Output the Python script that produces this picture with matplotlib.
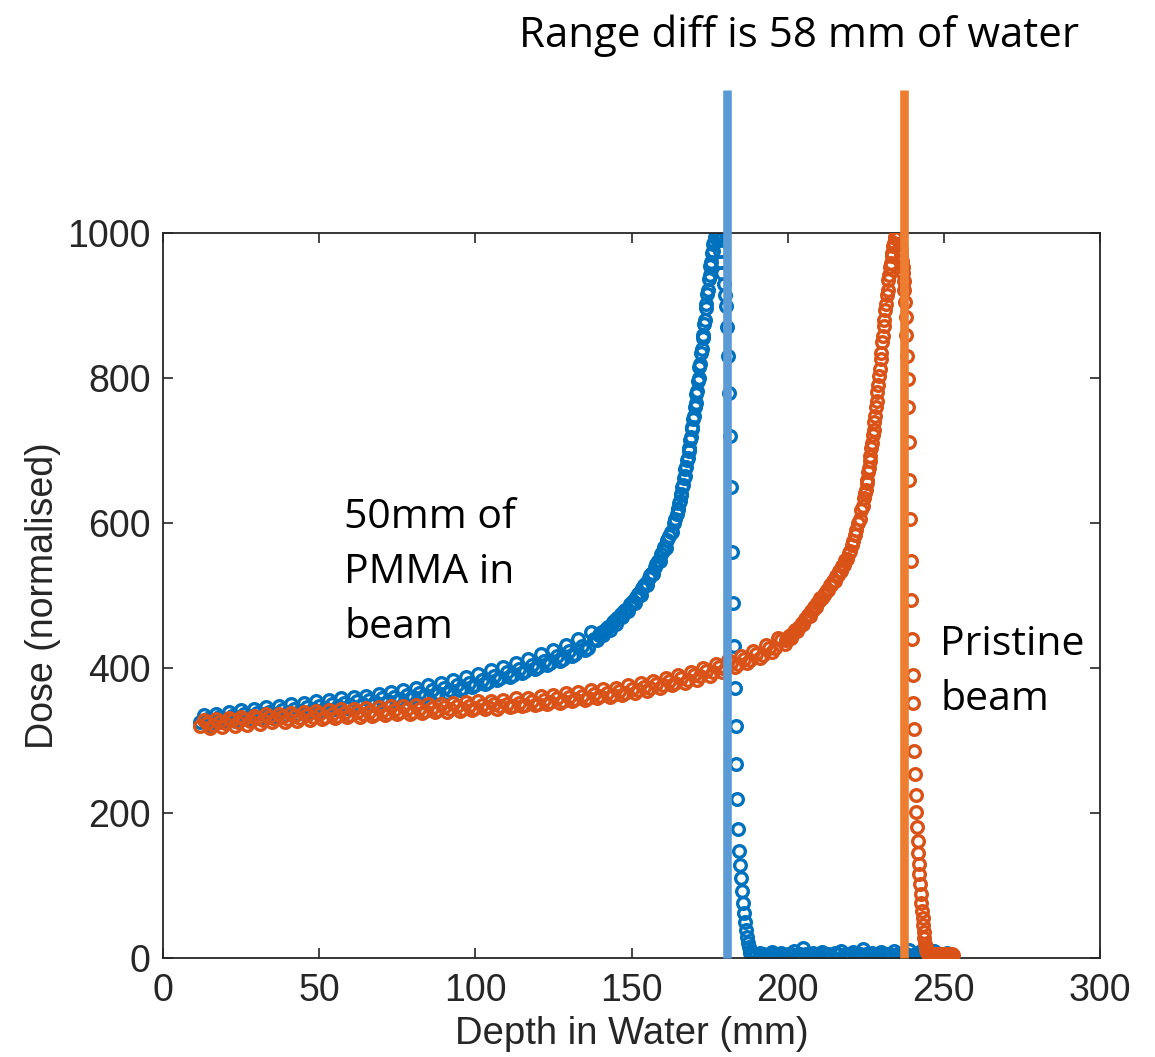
import matplotlib
matplotlib.use("Agg")
import matplotlib.pyplot as plt

# ---------------- data ----------------
blue_depth = [12, 14, 16, 18, 20, 22, 24, 26, 28, 30, 32, 34, 36, 38, 40, 42, 44, 46, 48, 50,
              52, 54, 56, 58, 60, 62, 64, 66, 68, 70, 72, 74, 76, 78, 80, 82, 84, 86, 88, 90,
              92, 94, 96, 98, 100, 102, 104, 106, 108, 110, 112, 114, 116, 118, 120, 122, 124,
              126, 128, 130, 132, 134, 136, 138,
              139, 140, 141, 142, 143, 144, 145, 146, 147, 148, 149, 150, 151, 152, 153, 154,
              155, 156, 157, 158, 159, 160, 161, 162, 163, 164,
              164.5, 165, 165.5, 166, 166.5, 167, 167.5, 168, 168.5, 169, 169.5, 170, 170.5,
              171, 171.5, 172, 172.5, 173, 173.5, 174, 174.5, 175, 175.5, 176, 176.5, 177,
              177.3, 177.6,
              177.9, 178.3, 178.7, 179.1, 179.5, 179.9, 180.3, 180.6, 180.9, 181.2, 181.5,
              181.8, 182.1, 182.4, 182.7, 183.0, 183.3, 183.6, 183.9, 184.2, 184.5, 184.8,
              185.1, 185.4, 185.7, 186.0, 186.3, 186.6, 186.9, 187.2, 187.5, 187.8, 188.1,
              189, 190, 191, 192, 193, 194, 195, 196, 197, 198, 199, 200, 201, 202, 203, 204,
              205, 206, 207, 208, 209, 210, 211, 212, 213, 214, 215, 216, 217, 218, 219, 220,
              221, 222, 223, 224, 225, 226, 227, 228, 229, 230, 231, 232, 233, 234, 235, 236,
              237, 238, 239, 240, 241, 242, 243, 244, 245, 246, 247, 248, 249, 250, 251]
blue_dose = [325, 329, 327, 332, 330, 334, 332, 336, 334, 338, 336, 340, 337, 342, 339, 344, 341,
             346, 343, 348, 345, 350, 347, 352, 349, 354, 351, 356, 353, 358, 355, 360, 357, 363,
             360, 366, 363, 369, 366, 372, 369, 376, 373, 380, 377, 384, 381, 389, 386, 394, 391,
             399, 396, 404, 401, 410, 407, 416, 413, 423, 420, 431, 428, 440,
             438, 448, 446, 455, 453, 463, 461, 471, 470, 480, 479, 490, 490, 502, 501, 514,
             515, 528, 530, 544, 547, 562, 566, 582, 588, 605,
             612, 620, 630, 640, 652, 665, 677, 690, 703, 718, 732, 748, 765, 782, 800, 820,
             840, 860, 880, 902, 922, 942, 960, 975, 988, 996,
             1000, 994,
             990, 975, 960, 945, 930, 915, 900, 870, 830, 780, 720, 650, 560, 490, 430, 372,
             320, 268, 220, 178, 148, 128, 110, 92, 76, 62, 50, 39, 29, 21, 15, 10, 7,
             6, 4, 7, 5, 3, 6, 8, 4, 5, 7, 3, 6, 5, 9, 4, 6, 14, 5, 3, 7, 6, 4, 8, 5, 6, 3, 7,
             5, 10, 4, 6, 5, 8, 3, 6, 12, 5, 4, 7, 6, 3, 8, 5, 6, 4, 9, 5, 3, 7, 6, 11, 4, 5,
             8, 6, 3, 7, 5, 9, 4, 6, 5, 7]

# second (interleaved) scan of the PMMA curve
blue2_depth = [13, 15, 17, 19, 21, 23, 25, 27, 29, 31, 33, 35, 37, 39, 41, 43, 45, 47, 49, 51,
               53, 55, 57, 59, 61, 63, 65, 67, 69, 71, 73, 75, 77, 79, 81, 83, 85, 87, 89, 91,
               93, 95, 97, 99, 101, 103, 105, 107, 109, 111, 113, 115, 117, 119, 121, 123, 125,
               127, 129, 131, 133, 135, 137,
               139.5, 140.5, 141.5, 142.5, 143.5, 144.5, 145.5, 146.5, 147.5, 148.5, 149.5,
               150.5, 151.5, 152.5, 153.5, 154.5, 155.5, 156.5, 157.5, 158.5, 159.5, 160.5,
               161.5, 162.5, 163.5,
               164.75, 165.25, 165.75, 166.25, 166.75, 167.25, 167.75, 168.25, 168.75, 169.25,
               169.75, 170.25, 170.75, 171.25, 171.75, 172.25, 172.75, 173.25, 173.75, 174.25,
               174.75, 175.25, 175.75, 176.25, 176.75]
blue2_dose = [335, 322, 337, 325, 340, 327, 342, 329, 344, 331,
              346, 333, 348, 335, 350, 337, 352, 339, 354, 341,
              356, 343, 358, 345, 360, 347, 362, 349, 364, 352,
              367, 354, 370, 357, 373, 360, 376, 363, 380, 366,
              384, 370, 388, 374, 392, 378, 397, 383, 402, 388,
              407, 393, 413, 398, 419, 404, 425, 410, 432, 417,
              440, 425, 449,
              446, 450, 453, 457, 460, 465, 469, 474, 478, 482, 488, 493, 498, 504, 510, 517,
              524, 531, 540, 548, 557, 567, 577, 588, 600,
              620, 628, 639, 650, 662, 674, 687, 700, 714, 729, 744, 760, 778, 796, 815, 835,
              855, 875, 896, 916, 936, 955, 972, 985, 995]

orange_depth = [12, 14, 16, 18, 20, 22, 24, 26, 28, 30, 32, 34, 36, 38, 40, 42, 44, 46, 48, 50,
                52, 54, 56, 58, 60, 62, 64, 66, 68, 70, 72, 74, 76, 78, 80, 82, 84, 86, 88, 90,
                92, 94, 96, 98, 100, 102, 104, 106, 108, 110, 112, 114, 116, 118, 120, 122, 124,
                126, 128, 130, 132, 134, 136, 138, 140, 142, 144, 146, 148, 150, 152, 154, 156,
                158, 160, 162, 164, 166, 168, 170, 172, 174, 176, 178, 180, 182, 184, 186, 188,
                190, 192, 194, 196, 198,
                199, 200, 201, 202, 203, 204, 205, 206, 207, 208, 209, 210, 211, 212, 213, 214,
                215, 216, 217, 218, 219, 220, 221, 222, 223, 224,
                224.5, 225, 225.5, 226, 226.5, 227, 227.5, 228, 228.5, 229, 229.5, 230, 230.5,
                231, 231.5, 232, 232.5, 233, 233.5, 234, 234.5, 235, 235.5,
                236.0, 236.2, 236.4, 236.6, 236.8, 237.0, 237.2, 237.4, 237.6, 237.8, 238.0,
                238.2, 238.4, 238.6, 238.8, 239.0, 239.2, 239.4, 239.6, 239.8, 240.0, 240.2,
                240.4, 240.6, 240.8, 241.0, 241.2, 241.4, 241.6, 241.8, 242.0, 242.2, 242.4,
                242.6, 242.8, 243.0, 243.2, 243.4, 243.6, 243.8, 244.0, 244.2, 244.4, 244.6,
                244.8,
                245, 245.5, 246, 246.5, 247, 247.5, 248, 248.5, 249, 249.5, 250, 250.5, 251,
                251.5, 252, 252.5, 253]
orange_dose = [320, 324, 322, 326, 324, 328, 326, 330, 327, 331, 328, 332, 329, 333, 330, 334,
               331, 335, 332, 336, 333, 337, 334, 338, 335, 339, 336, 340, 337, 341, 338, 342,
               339, 343, 340, 344, 341, 345, 342, 346, 343, 347, 344, 348, 345, 349, 346, 350,
               347, 351, 348, 352, 349, 354, 351, 356, 353, 358, 355, 360, 357, 362, 359, 364,
               361, 366, 363, 368, 366, 371, 369, 374, 372, 378, 376, 382, 380, 386, 384, 391,
               389, 396, 394, 401, 399, 407, 405, 413, 411, 420, 418, 428, 427, 438,
               433, 440, 442, 449, 451, 458, 461, 469, 472, 480, 484, 492, 496, 503, 508, 515,
               520, 528, 534, 542, 550, 562, 575, 590, 606, 624,
               634, 645, 660, 676, 692, 710, 728, 748, 768, 790, 812, 835, 858, 880, 902, 922,
               942, 958, 973, 986, 995, 1000, 996,
               985, 978, 970, 961, 953, 945, 934, 922, 905, 884, 860, 830, 798, 760, 712, 660,
               605, 548, 494, 440, 390, 352, 316, 285, 254, 225, 202, 181, 162, 145, 130, 116,
               102, 88, 76, 65, 55, 45, 36, 28, 20, 15, 11, 8, 6,
               5, 4, 6, 3, 5, 4, 6, 5, 3, 5, 4, 6, 4, 5, 3, 5, 4]

# second (interleaved) scan of the pristine curve
orange2_depth = [13, 15, 17, 19, 21, 23, 25, 27, 29, 31, 33, 35, 37, 39, 41, 43, 45, 47, 49, 51,
                 53, 55, 57, 59, 61, 63, 65, 67, 69, 71, 73, 75, 77, 79, 81, 83, 85, 87, 89, 91,
                 93, 95, 97, 99, 101, 103, 105, 107, 109, 111, 113, 115, 117, 119, 121, 123, 125,
                 127, 129, 131, 133, 135, 137, 139, 141, 143, 145, 147, 149, 151, 153, 155, 157,
                 159, 161, 163, 165, 167, 169, 171, 173, 175, 177, 179, 181, 183, 185, 187, 189,
                 191, 193, 195, 197,
                 199.5, 200.5, 201.5, 202.5, 203.5, 204.5, 205.5, 206.5, 207.5, 208.5, 209.5,
                 210.5, 211.5, 212.5, 213.5, 214.5, 215.5, 216.5, 217.5, 218.5, 219.5, 220.5,
                 221.5, 222.5, 223.5,
                 224.75, 225.25, 225.75, 226.25, 226.75, 227.25, 227.75, 228.25, 228.75, 229.25,
                 229.75, 230.25, 230.75, 231.25, 231.75, 232.25, 232.75, 233.25, 233.75, 234.25,
                 234.75]
orange2_dose = [328, 317, 330, 319, 331, 320, 333, 322, 334, 323,
                336, 325, 337, 326, 338, 327, 339, 328, 341, 330,
                342, 331, 343, 332, 344, 333, 345, 334, 346, 335,
                347, 336, 348, 337, 349, 338, 350, 339, 351, 340,
                352, 341, 353, 342, 354, 343, 355, 344, 356, 346,
                358, 347, 359, 349, 361, 350, 363, 352, 365, 354,
                367, 356, 369, 358, 371, 360, 373, 363, 376, 365,
                379, 368, 382, 372, 386, 376, 390, 380, 395, 384,
                400, 389, 405, 395, 411, 401, 417, 407, 424, 414,
                432, 422, 441,
                438, 444, 447, 453, 457, 462, 467, 473, 478, 484, 490, 496, 501, 508, 514, 520,
                527, 534, 541, 549, 558, 570, 584, 600, 618,
                642, 655, 670, 686, 703, 721, 740, 760, 781, 803, 826, 849, 872, 894, 915, 935,
                953, 968, 982, 993, 999]

range_line_depth = [180.5, 237.1]
range_line_colors = ["#5B9BD5", "#ED7D31"]

x_ticks = [0, 50, 100, 150, 200, 250, 300]
y_ticks = [0, 200, 400, 600, 800, 1000]

# ---------------- figure ----------------
W, H = 1155, 1057
fig = plt.figure(figsize=(W / 100, H / 100), dpi=100)
fig.patch.set_facecolor("white")
ax = fig.add_axes([163 / W, 1 - 958 / H, (1100 - 163) / W, (958 - 233) / H])

mk = dict(ls="none", marker="o", ms=8.4, mfc="none", mew=2.4)
ax.plot(blue_depth, blue_dose, mec="#0072BD", zorder=2, **mk)
ax.plot(blue2_depth, blue2_dose, mec="#0072BD", zorder=2, **mk)
ax.plot(orange_depth, orange_dose, mec="#D95319", zorder=3, **mk)
ax.plot(orange2_depth, orange2_dose, mec="#D95319", zorder=3, **mk)
ax.vlines(range_line_depth, 0, 1197, colors=range_line_colors, lw=6.2, clip_on=False, zorder=6)

ax.set_xlim(0, 300)
ax.set_ylim(0, 1000)
ax.set_xticks(x_ticks)
ax.set_yticks(y_ticks)

tick_font = "Liberation Sans"
ax.tick_params(direction="in", length=7, width=1.2, top=True, right=True,
               labelsize=27, colors="#262626", labelcolor="#262626")
ax.tick_params(axis="x", pad=11)
ax.tick_params(axis="y", pad=9)
for lab in ax.get_xticklabels() + ax.get_yticklabels():
    lab.set_family(tick_font)
for sp in ax.spines.values():
    sp.set_linewidth(1.3)
    sp.set_color("#262626")

ax.set_xlabel("Depth in Water (mm)", fontsize=27.5, family=tick_font, color="#262626", labelpad=5)
ax.set_ylabel("Dose (normalised)", fontsize=27, family=tick_font, color="#262626", labelpad=4)

ann_font = ["Open Sans", "DejaVu Sans"]
def ftext(px, py, s, size):
    fig.text(px / W, 1 - py / H, s, fontsize=size, family=ann_font, color="black",
             ha="left", va="baseline")

ftext(519, 47, "Range diff is 58 mm of water", 30.3)
ftext(344, 528, "50mm of", 29.5)
ftext(344, 583, "PMMA in", 29.5)
ftext(344, 638, "beam", 29.5)
ftext(940, 655, "Pristine", 29.5)
ftext(940, 710, "beam", 29.5)

fig.savefig("out.png", dpi=100)
